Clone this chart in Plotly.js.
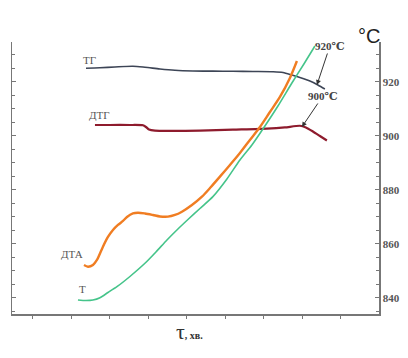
<!DOCTYPE html>
<html><head><meta charset="utf-8">
<script src="https://cdn.plot.ly/plotly-3.0.1.min.js"></script>
<style>html,body{margin:0;padding:0;background:#fff;}#chart{width:408px;height:358px;}</style>
</head><body><div id="chart"></div>
<script>
// T (green)
const tX = [1.169,1.377,1.558,1.740,1.948,2.182,2.519,2.909,3.195,3.481,3.766,4.026,4.338,4.675,5.039,5.377,5.688,5.974,6.364,6.727,7.039,7.325];
const tY = [839.26,839.07,839.26,840.11,842.04,844.19,847.96,852.85,857.04,861.48,865.56,869.07,873.15,877.52,884.07,891.11,896.67,902.59,911.11,919.63,926.67,933.33];
// ДТА (orange)
const dtaX = [1.325,1.429,1.558,1.662,1.818,1.948,2.078,2.208,2.338,2.442,2.597,2.727,2.909,3.117,3.299,3.506,3.688,3.870,4.130,4.390,4.623,4.857,5.117,5.377,5.636,5.896,6.156,6.416,6.675,6.857];
const dtaY = [852.22,851.59,852.22,854.07,859.00,862.59,865.19,867.04,868.52,870.00,871.30,871.59,871.30,870.74,870.19,870.11,870.74,871.96,874.44,877.52,881.11,884.93,889.26,893.70,898.52,903.33,908.89,914.44,921.48,927.78];
// ТГ (dark slate)
const tgX = [1.377,1.740,2.130,2.597,2.909,3.299,3.688,4.156,4.675,5.195,5.714,6.234,6.494,6.727,7.013,7.195,7.403,7.584];
const tgY = [925.07,925.26,925.56,925.81,925.44,924.81,924.33,924.07,924.00,923.96,923.89,923.81,923.52,922.59,921.30,920.37,918.89,917.41];
// ДТГ (dark red)
const dtgX = [1.610,2.000,2.519,2.857,2.935,3.013,3.169,3.558,4.338,5.195,6.078,6.545,6.935,7.091,7.273,7.455,7.636];
const dtgY = [904.07,904.07,904.07,903.96,903.33,902.41,901.96,901.85,901.96,902.33,902.70,903.15,903.78,903.15,901.67,900.00,898.33];

const xTicks = [0,1,2,3,4,5,6,7,8];
const yTicks = [840,860,880,900,920];
const yTickText = ['840','860','880','900','920'];

const labFont = {family:'Liberation Serif, DejaVu Serif, serif', size:11, color:'#555'};
const tempFont = {family:'Liberation Serif, DejaVu Serif, serif', size:11, color:'#444', weight:'bold'};

const traces = [
  {x:tgX, y:tgY, mode:'lines', line:{color:'#3d4556', width:1.6, shape:'spline', smoothing:0.8}, hoverinfo:'skip'},
  {x:dtgX, y:dtgY, mode:'lines', line:{color:'#8e1b2d', width:2.2, shape:'spline', smoothing:0.6}, hoverinfo:'skip'},
  {x:dtaX, y:dtaY, mode:'lines', line:{color:'#f07d22', width:2.4, shape:'spline', smoothing:0.8}, hoverinfo:'skip'},
  {x:tX, y:tY, mode:'lines', line:{color:'#45c48a', width:1.6, shape:'spline', smoothing:0.7}, hoverinfo:'skip'}
];

const layout = {
  width:408, height:358,
  margin:{l:12, r:29, t:42, b:44},
  paper_bgcolor:'#fff', plot_bgcolor:'#fff',
  showlegend:false,
  xaxis:{range:[-0.545,8.99], showgrid:false, zeroline:false, showline:true, linecolor:'#777', linewidth:1.5,
         tickvals:xTicks, ticks:'outside', ticklen:3, tickcolor:'#777', showticklabels:false, fixedrange:true},
  yaxis:{range:[834.07,934.8], side:'right', showgrid:false, zeroline:false, showline:true, linecolor:'#777', linewidth:1.5,
         mirror:'ticks', tickvals:yTicks, ticktext:yTickText, ticks:'inside', ticklen:4, tickcolor:'#777',
         minor:{dtick:5, tick0:0, ticks:'inside', ticklen:3, tickcolor:'#777', showgrid:false},
         tickfont:{family:'Liberation Serif, DejaVu Serif, serif', size:11, color:'#555', weight:'bold'}, fixedrange:true},
  annotations:[
    {x:1.481, y:928.15, text:'ТГ', showarrow:false, font:labFont},
    {x:1.740, y:907.78, text:'ДТГ', showarrow:false, font:labFont},
    {x:1.013, y:856.30, text:'ДТА', showarrow:false, font:labFont},
    {x:1.299, y:843.33, text:'Т', showarrow:false, font:labFont},
    {x:7.377, y:918.89, ax:7.714, ay:933.33, axref:'x', ayref:'y', text:'920℃', showarrow:true,
     arrowhead:2, arrowsize:1, arrowwidth:1, arrowcolor:'#333', font:tempFont},
    {x:6.987, y:903.33, ax:7.532, ay:914.81, axref:'x', ayref:'y', text:'900℃', showarrow:true,
     arrowhead:2, arrowsize:1, arrowwidth:1, arrowcolor:'#333', font:tempFont},
    {xref:'paper', yref:'paper', x:1.008, y:1.07, text:'°C', showarrow:false,
     font:{family:'Liberation Sans, Arial, sans-serif', size:20, color:'#222'}},
    {xref:'paper', yref:'paper', x:0.485, y:-0.118, showarrow:false,
     text:'<span style="font-size:22px">τ</span><b>, хв.</b>',
     font:{family:'Liberation Serif, DejaVu Serif, serif', size:10, color:'#333'}}
  ]
};
Plotly.newPlot('chart', traces, layout, {staticPlot:true, displayModeBar:false});
</script></body></html>
